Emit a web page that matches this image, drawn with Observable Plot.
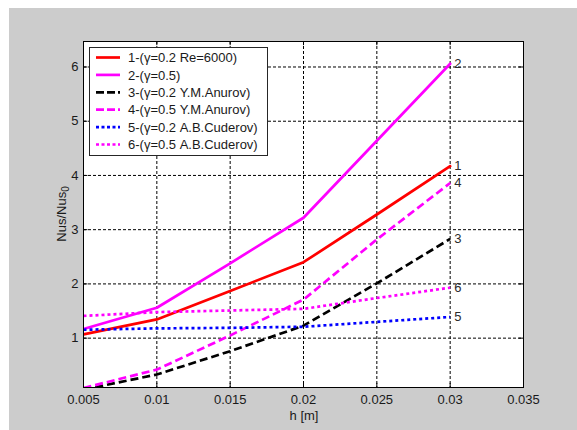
<!DOCTYPE html>
<html>
<head>
<meta charset="utf-8">
<script src="https://cdn.jsdelivr.net/npm/d3@7"></script>
<script src="https://cdn.jsdelivr.net/npm/@observablehq/plot@0.6"></script>
<style>
  body { margin: 0; background: #ffffff; }
  #wrap { position: relative; width: 577px; height: 430px; overflow: hidden; font-family: "Liberation Sans", Arial, sans-serif; color: #1a1a1a; }
  #bg { position: absolute; left: 9px; top: 8px; right: 0; bottom: 0; background: #cccccc; }
  #chart { position: absolute; left: 0; top: 0; }
  #ylab { position: absolute; left: 11.5px; top: 207px; width: 100px; height: 14px; line-height: 14px; font-size: 13px; text-align: center; transform: rotate(-90deg); transform-origin: 50% 50%; white-space: nowrap; }
  #ylab sub { font-size: 10px; line-height: 0; vertical-align: -3px; }
  #xlab { position: absolute; left: 254px; top: 408px; width: 100px; font-size: 13px; line-height: 15px; text-align: center; }
  #legend { position: absolute; left: 89px; top: 47px; }
</style>
</head>
<body>
<div id="wrap">
  <div id="bg"></div>
  <div id="chart"></div>
  <div id="ylab">Nus/Nus<sub>0</sub></div>
  <div id="xlab">h [m]</div>
  <div id="legend"></div>
</div>
<script>
// ---- data ----
const h  = [0.005, 0.01, 0.015, 0.02, 0.025, 0.03];
const s1 = [1.07, 1.345, 1.87, 2.40, 3.28, 4.17];   // 1-(γ=0.2 Re=6000)
const s2 = [1.17, 1.56, 2.38, 3.22, 4.64, 6.06];    // 2-(γ=0.5)
const s3 = [0.05, 0.33, 0.76, 1.23, 2.01, 2.83];    // 3-(γ=0.2 Y.M.Anurov)
const s4 = [0.08, 0.42, 1.05, 1.71, 2.82, 3.86];    // 4-(γ=0.5 Y.M.Anurov)
const s5 = [1.155, 1.18, 1.19, 1.21, 1.30, 1.39];   // 5-(γ=0.2 A.B.Cuderov)
const s6 = [1.41, 1.48, 1.51, 1.54, 1.74, 1.93];    // 6-(γ=0.5 A.B.Cuderov)

const seriesNames = ["1-(γ=0.2 Re=6000)", "2-(γ=0.5)", "3-(γ=0.2 Y.M.Anurov)",
                     "4-(γ=0.5 Y.M.Anurov)", "5-(γ=0.2 A.B.Cuderov)", "6-(γ=0.5 A.B.Cuderov)"];
const endLabels = ["1", "2", "3", "4", "5", "6"];
const seriesColors = ["#ff0000", "#ff00ff", "#000000", "#ff00ff", "#0000ff", "#ff00ff"];
const seriesDash = [null, null, "8,4", "8,4", "3,3", "3,3"];

const xTicks = [0.005, 0.01, 0.015, 0.02, 0.025, 0.03, 0.035];
const xTickLabels = ["0.005", "0.01", "0.015", "0.02", "0.025", "0.03", "0.035"];
const yTicks = [1, 2, 3, 4, 5, 6];
const yTickLabels = ["1", "2", "3", "4", "5", "6"];
const xDomain = [0.005, 0.035];
const yDomain = [0.09, 6.47];

// ---- build table ----
const allSeries = [s1, s2, s3, s4, s5, s6];
const table = [];
allSeries.forEach((s, k) => s.forEach((v, i) => table.push({series: k, h: h[i], v})));
const ends = allSeries.map((s, k) => ({h: h[h.length - 1], v: s[s.length - 1], label: endLabels[k]}));

const tickLenY = (yDomain[1] - yDomain[0]) * 0.012;
const tickLenX = (xDomain[1] - xDomain[0]) * 0.01;
const gridXTicks = xTicks.filter(t => t > xDomain[0] && t < xDomain[1]);

const lineMarks = allSeries.map((s, k) => Plot.line(table.filter(d => d.series === k), {
  x: "h", y: "v",
  stroke: seriesColors[k],
  strokeWidth: 2.7,
  strokeDasharray: seriesDash[k] || undefined,
  strokeLinecap: seriesDash[k] ? "butt" : "round",
  strokeLinejoin: "round",
  clip: true
}));

const gridStyle = {stroke: "#000", strokeOpacity: 1, strokeWidth: 1, strokeDasharray: "3,2"};

const chart = Plot.plot({
  width: 577, height: 430,
  marginLeft: 83, marginRight: 54, marginTop: 41, marginBottom: 43,
  style: {background: "transparent", fontFamily: "'Liberation Sans', Arial, sans-serif", fontSize: "13px", color: "#1a1a1a", overflow: "visible"},
  x: {domain: xDomain},
  y: {domain: yDomain},
  marks: [
    Plot.frame({fill: "white", stroke: null}),
    Plot.gridX(gridXTicks, gridStyle),
    Plot.gridY(yTicks, gridStyle),
    // inward ticks on all four sides
    Plot.ruleX(xTicks, {x: d => d, y1: yDomain[0], y2: yDomain[0] + tickLenY, stroke: "#000"}),
    Plot.ruleX(xTicks, {x: d => d, y1: yDomain[1] - tickLenY, y2: yDomain[1], stroke: "#000"}),
    Plot.ruleY(yTicks, {y: d => d, x1: xDomain[0], x2: xDomain[0] + tickLenX, stroke: "#000"}),
    Plot.ruleY(yTicks, {y: d => d, x1: xDomain[1] - tickLenX, x2: xDomain[1], stroke: "#000"}),
    Plot.axisX(xTicks, {anchor: "bottom", tickSize: 0, tickPadding: 7, label: null, fontSize: 13,
      tickFormat: d => xTickLabels[xTicks.indexOf(d)]}),
    Plot.axisY(yTicks, {anchor: "left", tickSize: 0, tickPadding: 5, label: null, fontSize: 13,
      tickFormat: d => yTickLabels[yTicks.indexOf(d)]}),
    ...lineMarks,
    Plot.text(ends, {x: "h", y: "v", text: "label", dx: 4, textAnchor: "start", fill: "#2a2a2a", fontSize: 13}),
    Plot.frame({stroke: "#000", strokeWidth: 1})
  ]
});
document.getElementById("chart").appendChild(chart);

// ---- legend ----
const lg = d3.select("#legend").append("svg")
  .attr("width", 180).attr("height", 110)
  .style("font-family", "'Liberation Sans', Arial, sans-serif")
  .style("font-size", "13px");
lg.append("rect").attr("x", 0.5).attr("y", 0.5).attr("width", 178).attr("height", 108)
  .attr("fill", "#fff").attr("stroke", "#262626").attr("stroke-width", 1);
seriesNames.forEach((name, k) => {
  const cy = 10.5 + k * 17.4;
  lg.append("line").attr("x1", 7).attr("x2", 31).attr("y1", cy).attr("y2", cy)
    .attr("stroke", seriesColors[k]).attr("stroke-width", 2.7)
    .attr("stroke-dasharray", seriesDash[k] ? (k < 4 ? "8,3" : "3,2.5") : null);
  lg.append("text").attr("x", 39).attr("y", cy).attr("dy", "0.36em")
    .attr("fill", "#1a1a1a").text(name);
});
</script>
</body>
</html>
